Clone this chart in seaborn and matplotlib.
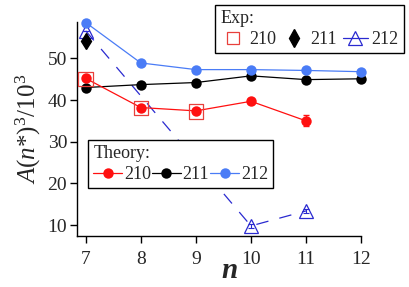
import seaborn as sns
import matplotlib.pyplot as plt
from matplotlib.lines import Line2D

# theory values
n_theory = [7, 8, 9, 10, 11, 12]
th_210 = [45.2, 38.2, 37.4, 39.7, 35.0]
th_211 = [43.0, 43.7, 44.2, 45.8, 44.9, 45.1]
th_212 = [58.6, 48.9, 47.3, 47.3, 47.1, 46.8]
th_210_err = [0, 0, 0, 0, 1.3]

# experimental values
exp_210_n = [7, 8, 9]
exp_210 = [45.0, 38.1, 37.3]
exp_211_n = [7]
exp_211 = [54.2]
exp_211_err = [1.0]
exp_212_n = [7, 10, 11]
exp_212 = [56.6, 9.8, 13.4]
exp_212_err = [0, 0.4, 0.4]

x_ticks = [7, 8, 9, 10, 11, 12]
y_ticks = [10, 20, 30, 40, 50]

red = "#ff1010"
sq_red = "#e8403c"
blue = "#4a7cf6"
dblue = "#2a2ad0"

sns.set_style("ticks")
plt.rcParams['font.family'] = ['Liberation Serif', 'DejaVu Serif']
plt.rcParams['mathtext.fontset'] = 'custom'
plt.rcParams['mathtext.rm'] = 'Liberation Serif'
plt.rcParams['mathtext.it'] = 'Liberation Serif:italic'

fig = plt.figure(figsize=(4.09, 2.87), dpi=100)
ax = fig.add_axes([0.188, 0.178, 0.695, 0.745])

# experiment 212, dashed
sns.lineplot(x=exp_212_n, y=exp_212, ax=ax, color=dblue, lw=0.9,
             linestyle=(0, (10, 9)), marker='^', markersize=10,
             markerfacecolor='none', markeredgecolor=dblue, markeredgewidth=0.9,
             clip_on=False, zorder=2)
ax.errorbar(exp_212_n, exp_212, yerr=exp_212_err, fmt='none', ecolor=dblue,
            elinewidth=0.8, capsize=2.5, capthick=0.8, zorder=2)

# theory lines
sns.lineplot(x=n_theory[:len(th_210)], y=th_210, ax=ax, color=red, lw=0.9,
             marker='o', markersize=7.5, markeredgewidth=0, clip_on=False, zorder=4)
ax.errorbar(n_theory[:len(th_210)], th_210, yerr=th_210_err, fmt='none',
            ecolor=red, elinewidth=0.9, capsize=2.5, zorder=5)
sns.lineplot(x=n_theory, y=th_211, ax=ax, color='black', lw=0.9,
             marker='o', markersize=7.5, markeredgewidth=0, clip_on=False, zorder=3)
sns.lineplot(x=n_theory, y=th_212, ax=ax, color=blue, lw=0.9,
             marker='o', markersize=7.5, markeredgewidth=0, clip_on=False, zorder=3)

# experiment 210 and 211 markers
sns.scatterplot(x=exp_210_n, y=exp_210, ax=ax, marker='s', s=110,
                facecolor='none', edgecolor=sq_red, linewidth=0.9, zorder=5, clip_on=False)
ax.errorbar(exp_211_n, exp_211, yerr=exp_211_err, fmt='d', color='black',
            markersize=8, capsize=0, elinewidth=1.5, zorder=5, clip_on=False)

ax.set_xlim(6.84, 12)
ax.set_ylim(7.4, 58.7)
ax.set_xticks(x_ticks)
ax.set_yticks(y_ticks)
ax.tick_params(labelsize=14, length=5, width=1, color='black')
ax.tick_params(axis='x', pad=6)
ax.tick_params(axis='y', pad=2)
for s in ['top', 'right']:
    ax.spines[s].set_visible(False)
for s in ['left', 'bottom']:
    ax.spines[s].set_linewidth(1)
    ax.spines[s].set_color('black')

ax.set_xlabel('n', fontsize=21, style='italic', fontweight='bold')
ax.xaxis.set_label_coords(0.537, -0.1)
ax.set_ylabel(r'$A(n$*$)^3/10^3$', fontsize=18, labelpad=3)

# legends
th_handles = [Line2D([], [], color=c, lw=0.9, marker='o', markersize=7.5, markeredgewidth=0)
              for c in [red, 'black', blue]]
leg1 = ax.legend(th_handles, ['210', '211', '212'], title='Theory:', ncol=3,
                 loc='upper left', bbox_to_anchor=(0.039, 0.449), borderaxespad=0,
                 fontsize=13, title_fontsize=13, handlelength=1.6, handletextpad=0.1,
                 columnspacing=0.05, frameon=True, fancybox=False, edgecolor='black',
                 framealpha=1, alignment='left', borderpad=0.3, labelspacing=0.2)
leg1.get_frame().set_linewidth(1)
ax.add_artist(leg1)

exp_handles = [
    Line2D([], [], ls='none', marker='s', markersize=8.5, markerfacecolor='none',
           markeredgecolor=sq_red, markeredgewidth=0.9),
    Line2D([], [], ls='none', marker='d', markersize=9, color='black'),
    Line2D([], [], color=dblue, lw=0.9, marker='^', markersize=10,
           markerfacecolor='none', markeredgecolor=dblue, markeredgewidth=0.9),
]
leg2 = ax.legend(exp_handles, ['210', '211', '212'], title='Exp:', ncol=3,
                 loc='upper left', bbox_to_anchor=(0.526, 0.983),
                 bbox_transform=fig.transFigure, borderaxespad=0,
                 fontsize=13, title_fontsize=13, handlelength=1.4, handletextpad=0.2,
                 columnspacing=0.3, frameon=True, fancybox=False, edgecolor='black',
                 framealpha=1, alignment='left', borderpad=0.3, labelspacing=0.2)
leg2.get_frame().set_linewidth(1)

fig.savefig('out.png', dpi=100)
